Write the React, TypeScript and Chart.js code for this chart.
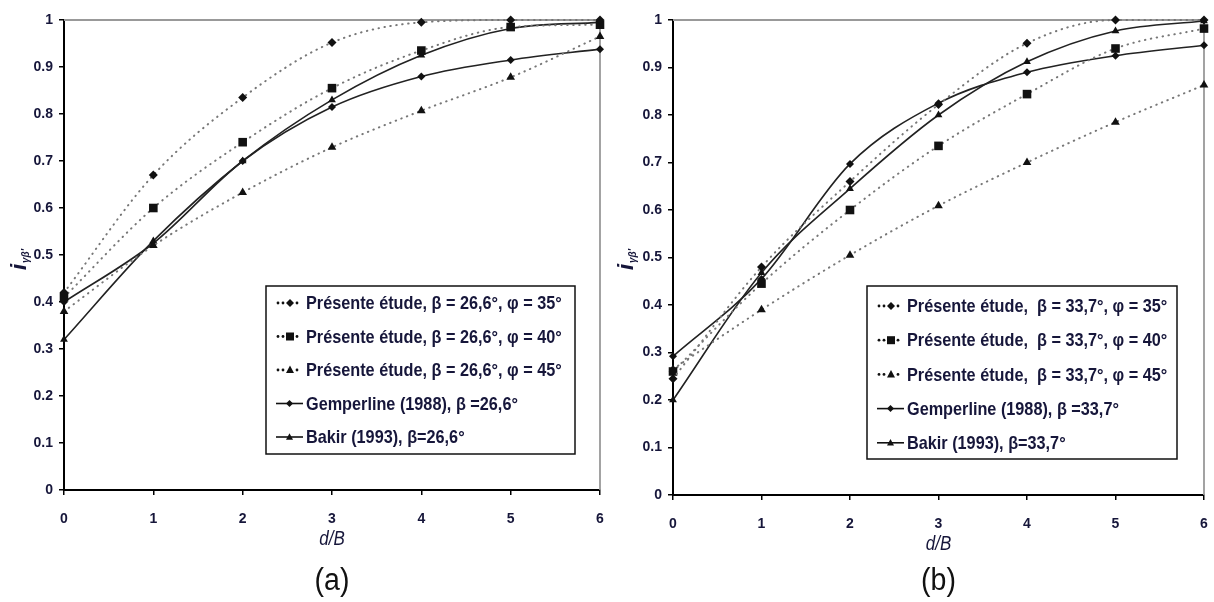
import React, { useEffect, useRef } from "react";
import { Chart, registerables } from "chart.js";

Chart.register(...registerables);

// ---------- data ----------
const xLabels = ["0", "1", "2", "3", "4", "5", "6"];
const yTickLabels = ["0", "0.1", "0.2", "0.3", "0.4", "0.5", "0.6", "0.7", "0.8", "0.9", "1"];

// panel (a) : beta = 26,6°
const aPhi35 = [0.42, 0.67, 0.835, 0.952, 0.995, 1.0, 1.0];
const aPhi40 = [0.41, 0.6, 0.74, 0.855, 0.935, 0.985, 0.99];
const aPhi45 = [0.38, 0.52, 0.633, 0.729, 0.807, 0.878, 0.965];
const aGemperline = [0.4, 0.525, 0.7, 0.815, 0.88, 0.915, 0.938];
const aBakir = [0.32, 0.53, 0.7, 0.83, 0.925, 0.982, 0.995];
const aLegend = [
  "Présente étude, β = 26,6°, φ = 35°",
  "Présente étude, β = 26,6°, φ = 40°",
  "Présente étude, β = 26,6°, φ = 45°",
  "Gemperline (1988), β =26,6°",
  "Bakir (1993), β=26,6°",
];

// panel (b) : beta = 33,7°
const bPhi35 = [0.245, 0.48, 0.66, 0.822, 0.951, 1.0, 1.0];
const bPhi40 = [0.26, 0.445, 0.6, 0.735, 0.844, 0.94, 0.982];
const bPhi45 = [0.265, 0.39, 0.505, 0.609, 0.7, 0.785, 0.863];
const bGemperline = [0.292, 0.455, 0.697, 0.825, 0.89, 0.925, 0.947];
const bBakir = [0.2, 0.468, 0.645, 0.8, 0.912, 0.977, 0.998];
const bLegend = [
  "Présente étude,  β = 33,7°, φ = 35°",
  "Présente étude,  β = 33,7°, φ = 40°",
  "Présente étude,  β = 33,7°, φ = 45°",
  "Gemperline (1988), β =33,7°",
  "Bakir (1993), β=33,7°",
];

const xTitle = "d/B";

// ---------- styles ----------
const FONT = "'Liberation Sans', Arial, sans-serif";
const TEXT = "#16163a";

type SeriesStyle = { dotted: boolean; shape: string; radius: number };
const seriesStyles: SeriesStyle[] = [
  { dotted: true, shape: "diamond", radius: 4.5 },
  { dotted: true, shape: "square", radius: 4.5 },
  { dotted: true, shape: "triangle", radius: 5 },
  { dotted: false, shape: "diamond", radius: 4 },
  { dotted: false, shape: "triangle", radius: 4.5 },
];

function drawMarker(ctx: CanvasRenderingContext2D, shape: string, x: number, y: number, r: number) {
  ctx.beginPath();
  if (shape === "diamond") {
    ctx.moveTo(x, y - r);
    ctx.lineTo(x + r, y);
    ctx.lineTo(x, y + r);
    ctx.lineTo(x - r, y);
  } else if (shape === "square") {
    ctx.rect(x - r, y - r, 2 * r, 2 * r);
  } else {
    ctx.moveTo(x, y - r * 1.1);
    ctx.lineTo(x + r, y + r * 0.75);
    ctx.lineTo(x - r, y + r * 0.75);
  }
  ctx.closePath();
  ctx.fill();
}

// draw horizontally condensed text (narrow look)
function narrowText(ctx: CanvasRenderingContext2D, text: string, x: number, y: number, sx: number) {
  ctx.save();
  ctx.translate(x, y);
  ctx.scale(sx, 1);
  ctx.fillText(text, 0, 0);
  ctx.restore();
}

const chartjsShape: Record<string, string> = { diamond: "rectRot", square: "rect", triangle: "triangle" };

type PanelSpec = {
  series: number[][];
  legend: string[];
  letter: string;
  width: number;
  height: number;
  area: { left: number; right: number; top: number; bottom: number };
  yTitleX: number;
  legendBox: { x: number; y: number; w: number; h: number; firstY: number; step: number; symX: number; textX: number };
};

const panels: PanelSpec[] = [
  {
    series: [aPhi35, aPhi40, aPhi45, aGemperline, aBakir],
    legend: aLegend,
    letter: "(a)",
    width: 607,
    height: 602,
    area: { left: 64, right: 600, top: 20, bottom: 490 },
    yTitleX: 20,
    legendBox: { x: 266, y: 286, w: 309, h: 168, firstY: 303, step: 33.5, symX: 276, textX: 306 },
  },
  {
    series: [bPhi35, bPhi40, bPhi45, bGemperline, bBakir],
    legend: bLegend,
    letter: "(b)",
    width: 607,
    height: 602,
    area: { left: 66, right: 597, top: 20, bottom: 495 },
    yTitleX: 20,
    legendBox: { x: 260, y: 286, w: 310, h: 173, firstY: 306, step: 34.2, symX: 270, textX: 300 },
  },
];

const decorPlugin = {
  id: "decor",
  beforeDatasetsDraw(chart: any) {
    const ctx = chart.ctx as CanvasRenderingContext2D;
    const ca = chart.chartArea;
    ctx.save();
    ctx.strokeStyle = "#999";
    ctx.lineWidth = 1.8;
    ctx.beginPath();
    ctx.moveTo(ca.left, ca.top);
    ctx.lineTo(ca.right, ca.top);
    ctx.lineTo(ca.right, ca.bottom);
    ctx.stroke();
    ctx.restore();
  },
  afterDraw(chart: any, _args: any, opts: any) {
    const spec: PanelSpec = opts.spec;
    const ctx = chart.ctx as CanvasRenderingContext2D;
    const ca = chart.chartArea;
    const cx = (ca.left + ca.right) / 2;
    ctx.save();
    ctx.fillStyle = TEXT;
    ctx.textAlign = "center";
    ctx.textBaseline = "middle";
    // x title
    ctx.font = `italic 20px ${FONT}`;
    narrowText(ctx, xTitle, cx, ca.bottom + 49, 0.85);
    // panel letter
    ctx.fillStyle = "#111";
    ctx.font = `31px ${FONT}`;
    narrowText(ctx, spec.letter, cx, 581, 0.92);
    // y title (i with subscript), rotated
    ctx.fillStyle = TEXT;
    ctx.save();
    ctx.translate(spec.yTitleX + 6, 270);
    ctx.rotate(-Math.PI / 2);
    ctx.textAlign = "left";
    ctx.textBaseline = "alphabetic";
    ctx.font = `italic bold 22px ${FONT}`;
    ctx.fillText("i", 0, 0);
    ctx.font = `italic bold 10px ${FONT}`;
    ctx.fillText("γβ'", 7, 3);
    ctx.restore();

    // legend
    const lb = spec.legendBox;
    ctx.fillStyle = "#ffffff";
    ctx.fillRect(lb.x, lb.y, lb.w, lb.h);
    ctx.strokeStyle = "#111";
    ctx.lineWidth = 1.5;
    ctx.strokeRect(lb.x, lb.y, lb.w, lb.h);
    spec.legend.forEach((label, i) => {
      const st = seriesStyles[i];
      const y = lb.firstY + i * lb.step;
      const sx = lb.symX;
      ctx.fillStyle = "#111";
      ctx.strokeStyle = "#111";
      if (st.dotted) {
        [sx + 2, sx + 7, sx + 21].forEach((dx) => {
          ctx.beginPath();
          ctx.arc(dx, y, 1.4, 0, Math.PI * 2);
          ctx.fill();
        });
      } else {
        ctx.lineWidth = 1.6;
        ctx.beginPath();
        ctx.moveTo(sx, y);
        ctx.lineTo(sx + 27, y);
        ctx.stroke();
      }
      drawMarker(ctx, st.shape, st.dotted ? sx + 14 : sx + 13.5, y, st.dotted ? 4 : 3.5);
      ctx.fillStyle = TEXT;
      ctx.textAlign = "left";
      ctx.textBaseline = "middle";
      ctx.font = `bold 19px ${FONT}`;
      narrowText(ctx, label, lb.textX, y + 1, 0.855);
    });
    ctx.restore();
  },
};

function Panel({ spec }: { spec: PanelSpec }) {
  const ref = useRef<HTMLCanvasElement | null>(null);
  useEffect(() => {
    if (!ref.current) return;
    const a = spec.area;
    const datasets = spec.series.map((values, i) => {
      const st = seriesStyles[i];
      return {
        label: spec.legend[i],
        data: values,
        borderColor: st.dotted ? "#777" : "#222",
        backgroundColor: "#111",
        borderWidth: st.dotted ? 2 : 1.6,
        borderDash: st.dotted ? [0.5, 5.5] : [],
        borderCapStyle: st.dotted ? "round" : "butt",
        pointStyle: chartjsShape[st.shape],
        pointRadius: st.shape === "square" ? st.radius * 1.35 : st.radius,
        pointBackgroundColor: "#111",
        pointBorderColor: "#111",
        pointBorderWidth: 0,
        tension: 0.4,
        cubicInterpolationMode: "monotone",
        clip: false,
        fill: false,
      };
    });
    const tickFont = { family: FONT, size: 14, weight: "bold" as const };
    const chart = new Chart(ref.current, {
      type: "line",
      data: { labels: xLabels, datasets: datasets as any },
      options: {
        animation: false,
        responsive: false,
        events: [],
        layout: { padding: { left: 0, top: a.top, right: spec.width - a.right, bottom: 0 } },
        plugins: {
          legend: { display: false },
          tooltip: { enabled: false },
          decor: { spec },
        } as any,
        scales: {
          x: {
            type: "category",
            offset: false,
            border: { display: true, color: "#000", width: 2 },
            grid: { display: true, drawOnChartArea: false, drawTicks: true, tickLength: 5, color: "#000", lineWidth: 1.5 },
            ticks: { color: TEXT, font: tickFont, padding: 16, maxRotation: 0, autoSkip: false },
            afterFit: (s: any) => {
              s.height = spec.height - a.bottom;
              s.paddingLeft = 0;
              s.paddingRight = 0;
            },
          },
          y: {
            type: "linear",
            min: 0,
            max: 1,
            border: { display: true, color: "#000", width: 2 },
            grid: { display: true, drawOnChartArea: false, drawTicks: true, tickLength: 5, color: "#000", lineWidth: 1.5 },
            ticks: {
              stepSize: 0.1,
              color: TEXT,
              font: tickFont,
              padding: 6,
              callback: (_v: any, i: number) => yTickLabels[i],
            },
            afterFit: (s: any) => {
              s.width = a.left;
              s.paddingTop = 0;
              s.paddingBottom = 0;
            },
          },
        },
      } as any,
      plugins: [decorPlugin],
    });
    return () => chart.destroy();
  }, [spec]);
  return <canvas ref={ref} width={spec.width} height={spec.height} style={{ display: "block", width: spec.width, height: spec.height }} />;
}

export default function App() {
  return (
    <div style={{ position: "absolute", left: 0, top: 0, width: 1214, height: 602, background: "#fff", display: "flex" }}>
      {panels.map((p) => (
        <Panel key={p.letter} spec={p} />
      ))}
    </div>
  );
}
